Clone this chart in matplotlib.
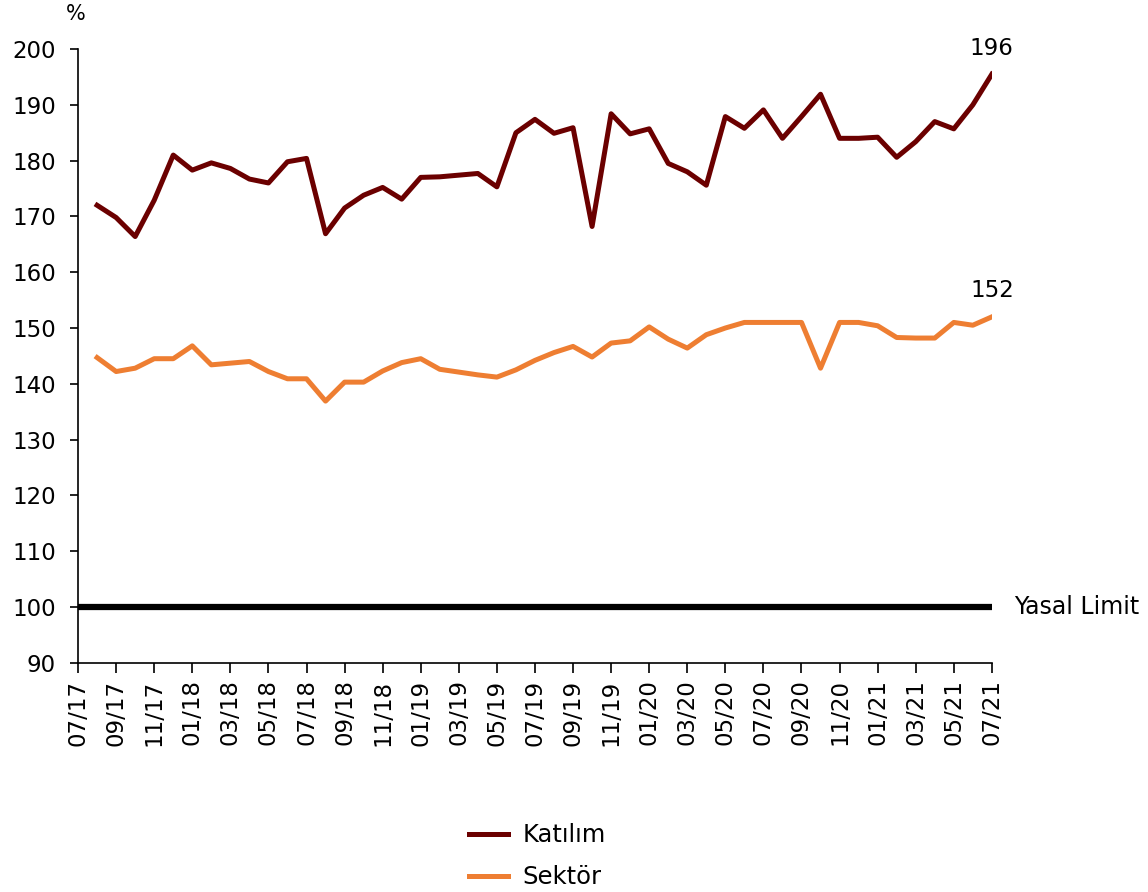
import matplotlib
matplotlib.use("Agg")
import matplotlib.pyplot as plt

months = ["07/17", "08/17", "09/17", "10/17", "11/17", "12/17",
          "01/18", "02/18", "03/18", "04/18", "05/18", "06/18", "07/18", "08/18", "09/18", "10/18", "11/18", "12/18",
          "01/19", "02/19", "03/19", "04/19", "05/19", "06/19", "07/19", "08/19", "09/19", "10/19", "11/19", "12/19",
          "01/20", "02/20", "03/20", "04/20", "05/20", "06/20", "07/20", "08/20", "09/20", "10/20", "11/20", "12/20",
          "01/21", "02/21", "03/21", "04/21", "05/21", "06/21", "07/21"]

# values start at 08/17
katilim = [172.0, 169.8, 166.4, 172.9, 181.0,
           178.3, 179.6, 178.6, 176.7, 176.0, 179.8, 180.4, 166.9, 171.5, 173.8, 175.2, 173.1,
           177.0, 177.1, 177.4, 177.7, 175.3, 185.0, 187.4, 184.9, 185.9, 168.2, 188.4, 184.8,
           185.7, 179.5, 178.0, 175.6, 187.9, 185.8, 189.1, 184.0, 187.9, 191.9, 184.0, 184.0,
           184.2, 180.6, 183.4, 187.0, 185.7, 190.0, 195.5]
sektor = [144.7, 142.2, 142.8, 144.5, 144.5,
          146.8, 143.4, 143.7, 144.0, 142.2, 140.9, 140.9, 136.9, 140.3, 140.3, 142.3, 143.8,
          144.5, 142.6, 142.1, 141.6, 141.2, 142.5, 144.2, 145.6, 146.7, 144.8, 147.3, 147.7,
          150.2, 148.0, 146.4, 148.8, 150.0, 151.0, 151.0, 151.0, 151.0, 142.8, 151.0, 151.0,
          150.4, 148.3, 148.2, 148.2, 151.0, 150.5, 152.0]
yasal_limit = [100] * len(months)

plt.rcParams['font.family'] = ['DejaVu Sans']

fig = plt.figure(figsize=(11.48, 8.92), dpi=100)
ax = fig.add_axes([0.068, 0.257, 0.796, 0.688])

x_all = list(range(len(months)))
x_data = x_all[1:]

ax.plot(x_all, yasal_limit, color='black', lw=4.5, solid_capstyle='round')
l1, = ax.plot(x_data, katilim, color='#6B0000', lw=3.6, label='Katılım', solid_joinstyle='round')
l2, = ax.plot(x_data, sektor, color='#EE7E32', lw=3.6, label='Sektör', solid_joinstyle='round')

ax.set_xlim(0, len(months) - 1)
ax.set_ylim(90, 200)
ax.set_yticks(range(90, 201, 10))
ax.set_xticks(x_all[::2])
ax.set_xticklabels(months[::2], rotation=90, fontsize=16.5)
ax.tick_params(axis='y', labelsize=16.5, direction='out', length=6, width=1.2, pad=10)
ax.tick_params(axis='x', direction='out', length=7, width=1.2, pad=5)
for s in ['top', 'right']:
    ax.spines[s].set_visible(False)
for s in ['left', 'bottom']:
    ax.spines[s].set_linewidth(1.2)

ax.text(-0.1, 204.5, '%', fontsize=15, ha='center', va='bottom')
ax.text(x_data[-1], katilim[-1] + 2.6, f"{katilim[-1]:.0f}", fontsize=16.5, ha='center', va='bottom')
ax.text(x_data[-1], sektor[-1] + 2.6, f"{sektor[-1]:.0f}", fontsize=16.5, ha='center', va='bottom')
ax.text(len(months) - 1 + 1.15, 100, 'Yasal Limit', fontsize=17, ha='left', va='center')

fig.legend(handles=[l1, l2], loc='center', bbox_to_anchor=(0.468, 0.04), frameon=False,
           fontsize=17.5, handlelength=1.6, handletextpad=0.6, labelspacing=0.75)

fig.savefig('out.png', dpi=100)
